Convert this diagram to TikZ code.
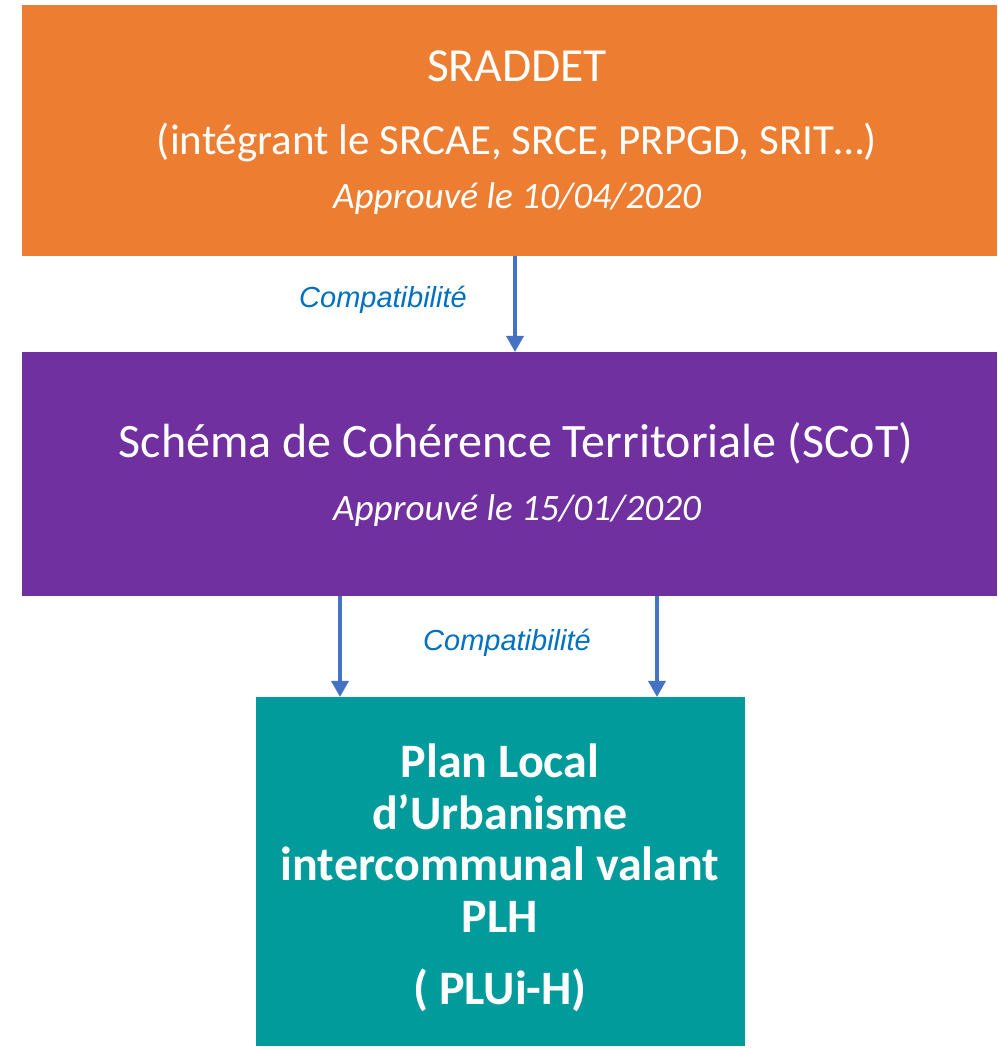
\documentclass[tikz,border=0pt]{standalone}
\usepackage{fontspec}
\setmainfont{Carlito}
\newfontfamily\arialfont{Liberation Sans}
\usetikzlibrary{arrows.meta}
\definecolor{orangebox}{HTML}{ED7D31}
\definecolor{purplebox}{HTML}{7030A0}
\definecolor{tealbox}{HTML}{009B9A}
\definecolor{arrowblue}{HTML}{4472C4}
\definecolor{labelblue}{HTML}{0070C0}
\tikzset{
  box/.style={fill=#1, draw=none, inner sep=0pt, anchor=north west},
  line/.style={text=white, anchor=base, inner sep=0pt},
  arr/.style={arrowblue, line width=3.5pt, -{Triangle[length=16pt,width=17pt]}},
  compat/.style={text=labelblue, anchor=base, inner sep=0pt, font=\arialfont\itshape\fontsize{29}{33}\selectfont}
}
\begin{document}
\begin{tikzpicture}[x=1pt,y=1pt]
	\useasboundingbox (0,0) rectangle (997,1049);
	%boxes
	\node[box=orangebox, minimum width=975pt, minimum height=251pt] (sraddet) at (22,1044) {};
	\node[box=purplebox, minimum width=975pt, minimum height=244pt] (scot) at (22,697) {};
	\node[box=tealbox, minimum width=489pt, minimum height=349pt] (plui) at (256,352) {};
	%SRADDET
	\node[line, font=\fontsize{47.5}{50}\selectfont] (t1) at (517,967) {SRADDET};
	\node[line, font=\fontsize{43}{50}\selectfont] (t2) at (517,894) {(intégrant le SRCAE, SRCE, PRPGD, SRIT…)};
	\node[line, font=\itshape\fontsize{37.2}{40}\selectfont] (t3) at (517,840) {Approuvé le 10/04/2020};
	%SCoT
	\node[line, font=\fontsize{48}{50}\selectfont] (t4) at (516,591) {Schéma de Cohérence Territoriale (SCoT)};
	\node[line, font=\itshape\fontsize{37.2}{40}\selectfont] (t5) at (517,528) {Approuvé le 15/01/2020};
	%PLUi-H
	\node[line, font=\bfseries\fontsize{48}{52}\selectfont] (t6) at (500,271) {Plan Local};
	\node[line, font=\bfseries\fontsize{48}{52}\selectfont] (t7) at (500,219) {d’Urbanisme};
	\node[line, font=\bfseries\fontsize{48}{52}\selectfont] (t8) at (500,168) {intercommunal valant};
	\node[line, font=\bfseries\fontsize{48}{52}\selectfont] (t9) at (500,116) {PLH};
	\node[line, font=\bfseries\fontsize{48}{52}\selectfont] (t10) at (500,44) {( PLUi-H)};
	%arrows
	\coordinate (a1) at (515,0);
	\coordinate (a2) at (340,0);
	\coordinate (a3) at (657,0);
	\draw[arr] (sraddet.south -| a1) -- (scot.north -| a1);
	\draw[arr] (scot.south -| a2) -- (plui.north -| a2);
	\draw[arr] (scot.south -| a3) -- (plui.north -| a3);
	\node[compat] (c1) at (383,741) {Compatibilité};
	\node[compat] (c2) at (507,398) {Compatibilité};
\end{tikzpicture}
\end{document}
